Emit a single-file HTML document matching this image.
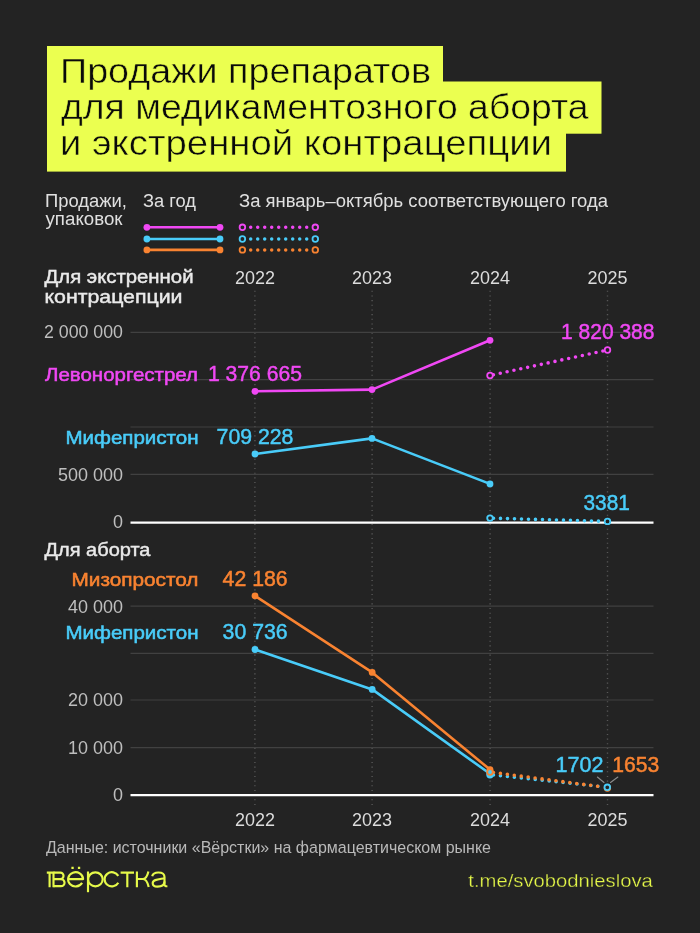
<!DOCTYPE html>
<html lang="ru">
<head>
<meta charset="utf-8">
<title>Продажи препаратов для медикаментозного аборта и экстренной контрацепции</title>
<style>
html,body{margin:0;padding:0;background:#232323;}
body{width:700px;height:933px;overflow:hidden;font-family:"Liberation Sans",sans-serif;}
svg{display:block;will-change:transform;}
text{font-family:"Liberation Sans",sans-serif;}
.ttl{font-size:35px;fill:#0a0a0a;stroke:#ebff50;stroke-width:0.5px;}
.lg{font-size:18px;fill:#e0e0e0;}
.ax{font-size:18px;fill:#bebebe;}
.yr{font-size:18.3px;fill:#dcdcdc;}
.hd{font-size:17.6px;fill:#eaeaea;stroke:#eaeaea;stroke-width:0.42px;}
.nm{font-size:18.6px;stroke-width:0.55px;}
.val{font-size:22px;stroke-width:0.5px;}
.m{fill:#f048f4;stroke:#f048f4;}
.c{fill:#49ccf9;stroke:#49ccf9;}
.o{fill:#f98331;stroke:#f98331;}
.src{font-size:16.7px;fill:#b9b9b9;}
.lnk{font-size:18px;fill:#e6f94a;stroke:#232323;stroke-width:0.3px;}
.logo{font-size:27px;fill:#e6f94a;stroke:#232323;stroke-width:0.5px;}
</style>
</head>
<body>
<svg width="700" height="933" viewBox="0 0 700 933">
<rect x="0" y="0" width="700" height="933" fill="#232323"/>

<!-- title -->
<g id="title">
<rect x="47" y="46" width="396" height="40" fill="#ebff50"/>
<rect x="47" y="81.5" width="554.5" height="52.2" fill="#ebff50"/>
<rect x="47" y="133" width="519" height="38.6" fill="#ebff50"/>
<text class="ttl" x="60" y="82.6" textLength="371" lengthAdjust="spacingAndGlyphs">Продажи препаратов</text>
<text class="ttl" x="61" y="118.5" textLength="527.5" lengthAdjust="spacingAndGlyphs">для медикаментозного аборта</text>
<text class="ttl" x="60" y="154.5" textLength="492" lengthAdjust="spacingAndGlyphs">и экстренной контрацепции</text>
</g>

<!-- legend -->
<g id="legend">
<text class="lg" x="45" y="206.7" textLength="82" lengthAdjust="spacingAndGlyphs">Продажи,</text>
<text class="lg" x="45.5" y="225.2" textLength="77" lengthAdjust="spacingAndGlyphs">упаковок</text>
<text class="lg" x="143" y="206.5" textLength="53" lengthAdjust="spacingAndGlyphs">За год</text>
<text class="lg" x="239" y="206.5" textLength="369" lengthAdjust="spacingAndGlyphs">За январь–октябрь соответствующего года</text>

<g stroke-width="2.6" stroke-linecap="round">
<line x1="146.9" y1="227.3" x2="220" y2="227.3" stroke="#f048f4"/>
<line x1="146.9" y1="239" x2="220" y2="239" stroke="#49ccf9"/>
<line x1="146.9" y1="249.9" x2="220" y2="249.9" stroke="#f98331"/>
</g>
<circle cx="146.9" cy="227.3" r="3.4" fill="#f048f4"/><circle cx="220" cy="227.3" r="3.4" fill="#f048f4"/>
<circle cx="146.9" cy="239" r="3.4" fill="#49ccf9"/><circle cx="220" cy="239" r="3.4" fill="#49ccf9"/>
<circle cx="146.9" cy="249.9" r="3.4" fill="#f98331"/><circle cx="220" cy="249.9" r="3.4" fill="#f98331"/>

<g stroke-width="3.5" stroke-linecap="round" stroke-dasharray="0 7" fill="none">
<line x1="250.7" y1="227.3" x2="308" y2="227.3" stroke="#f048f4"/>
<line x1="250.7" y1="239" x2="308" y2="239" stroke="#49ccf9"/>
<line x1="250.7" y1="249.9" x2="308" y2="249.9" stroke="#f98331"/>
</g>
<g fill="#232323" stroke-width="1.8">
<circle cx="242.4" cy="227.3" r="2.8" stroke="#f048f4"/><circle cx="315.3" cy="227.3" r="2.8" stroke="#f048f4"/>
<circle cx="242.4" cy="239" r="2.8" stroke="#49ccf9"/><circle cx="315.3" cy="239" r="2.8" stroke="#49ccf9"/>
<circle cx="242.4" cy="249.9" r="2.8" stroke="#f98331"/><circle cx="315.3" cy="249.9" r="2.8" stroke="#f98331"/>
</g>
</g>

<!-- grid -->
<g id="grid">
<g stroke="#585858" stroke-width="1.4" stroke-dasharray="1.1 3.565">
<line x1="254.9" y1="290.75" x2="254.9" y2="805.3"/>
<line x1="372.1" y1="290.75" x2="372.1" y2="805.3"/>
<line x1="490.1" y1="290.75" x2="490.1" y2="805.3"/>
<line x1="607.5" y1="290.75" x2="607.5" y2="805.3"/>
</g>
<g stroke="#414141" stroke-width="1.2">
<line x1="130.5" y1="332.3" x2="653.5" y2="332.3"/>
<line x1="130.5" y1="379.6" x2="653.5" y2="379.6"/>
<line x1="130.5" y1="427" x2="653.5" y2="427"/>
<line x1="130.5" y1="474.4" x2="653.5" y2="474.4"/>
<line x1="130.5" y1="606.2" x2="653.5" y2="606.2"/>
<line x1="130.5" y1="653.4" x2="653.5" y2="653.4"/>
<line x1="130.5" y1="700" x2="653.5" y2="700"/>
<line x1="130.5" y1="747.6" x2="653.5" y2="747.6"/>
</g>
<line x1="130.5" y1="522.6" x2="653.5" y2="522.6" stroke="#ffffff" stroke-width="2.3"/>
<line x1="130.5" y1="795.1" x2="653.5" y2="795.1" stroke="#ffffff" stroke-width="2.3"/>
</g>

<!-- axis labels -->
<g id="labels">
<text class="hd" x="44.5" y="282.5" textLength="149" lengthAdjust="spacingAndGlyphs">Для экстренной</text>
<text class="hd" x="44.5" y="303" textLength="138" lengthAdjust="spacingAndGlyphs">контрацепции</text>
<text class="hd" x="44.5" y="556.2" textLength="106" lengthAdjust="spacingAndGlyphs">Для аборта</text>

<text class="yr" x="235" y="283.5" textLength="40" lengthAdjust="spacingAndGlyphs">2022</text>
<text class="yr" x="352" y="283.5" textLength="40" lengthAdjust="spacingAndGlyphs">2023</text>
<text class="yr" x="470" y="283.5" textLength="40" lengthAdjust="spacingAndGlyphs">2024</text>
<text class="yr" x="587.5" y="283.5" textLength="40" lengthAdjust="spacingAndGlyphs">2025</text>
<text class="yr" x="235" y="825.5" textLength="40" lengthAdjust="spacingAndGlyphs">2022</text>
<text class="yr" x="352" y="825.5" textLength="40" lengthAdjust="spacingAndGlyphs">2023</text>
<text class="yr" x="470" y="825.5" textLength="40" lengthAdjust="spacingAndGlyphs">2024</text>
<text class="yr" x="587.5" y="825.5" textLength="40" lengthAdjust="spacingAndGlyphs">2025</text>

<text class="ax" x="44" y="337.5" textLength="79" lengthAdjust="spacingAndGlyphs">2 000 000</text>
<text class="ax" x="58" y="480.8" textLength="65" lengthAdjust="spacingAndGlyphs">500 000</text>
<text class="ax" x="113" y="527.8" textLength="10" lengthAdjust="spacingAndGlyphs">0</text>
<text class="ax" x="68" y="613" textLength="55" lengthAdjust="spacingAndGlyphs">40 000</text>
<text class="ax" x="68" y="706.2" textLength="55" lengthAdjust="spacingAndGlyphs">20 000</text>
<text class="ax" x="68" y="753.6" textLength="55" lengthAdjust="spacingAndGlyphs">10 000</text>
<text class="ax" x="113" y="800.5" textLength="10" lengthAdjust="spacingAndGlyphs">0</text>
</g>

<!-- series chart 1 -->
<g id="chart1" fill="none" stroke-linecap="round" stroke-linejoin="round">
<polyline points="255,391.3 372,389.6 490,340.3" stroke="#f048f4" stroke-width="2.6"/>
<polyline points="255,454 372,438.4 490,483.9" stroke="#49ccf9" stroke-width="2.6"/>
<line x1="490" y1="375.5" x2="607.5" y2="350" stroke="#f048f4" stroke-width="3.6" stroke-dasharray="0 7" stroke-dashoffset="-3.5"/>
<line x1="490" y1="518.1" x2="602.5" y2="521.26" stroke="#49ccf9" stroke-width="3.6" stroke-dasharray="0 7" stroke-dashoffset="-3.5"/>
<g fill="#f048f4"><circle cx="255" cy="391.3" r="3.4"/><circle cx="372" cy="389.6" r="3.4"/><circle cx="490" cy="340.3" r="3.4"/></g>
<g fill="#49ccf9"><circle cx="255" cy="454" r="3.4"/><circle cx="372" cy="438.4" r="3.4"/><circle cx="490" cy="483.9" r="3.4"/></g>
<g fill="#232323" stroke-width="1.8">
<circle cx="490" cy="375.5" r="2.8" stroke="#f048f4"/><circle cx="607.5" cy="350" r="2.8" stroke="#f048f4"/>
<circle cx="490" cy="518.1" r="2.8" stroke="#49ccf9"/><circle cx="607.5" cy="521.4" r="2.8" stroke="#49ccf9"/>
</g>
</g>
<text class="nm m" x="45" y="380.7" textLength="153" lengthAdjust="spacingAndGlyphs">Левоноргестрел</text>
<text class="val m" x="208" y="380.7" textLength="94" lengthAdjust="spacingAndGlyphs">1 376 665</text>
<text class="val m" x="561" y="338.6" textLength="93.5" lengthAdjust="spacingAndGlyphs">1 820 388</text>
<text class="nm c" x="65.5" y="443.9" textLength="133" lengthAdjust="spacingAndGlyphs">Мифепристон</text>
<text class="val c" x="216.6" y="443.9" textLength="76.8" lengthAdjust="spacingAndGlyphs">709 228</text>
<text class="val c" x="583.5" y="509.6" textLength="46.3" lengthAdjust="spacingAndGlyphs">3381</text>

<!-- series chart 2 -->
<g id="chart2" fill="none" stroke-linecap="round" stroke-linejoin="round">
<polyline points="255,649.5 372.2,689.4 490,773.8" stroke="#49ccf9" stroke-width="2.6"/>
<polyline points="255,595.8 372.2,672.4 490,769.6" stroke="#f98331" stroke-width="2.6"/>
<line x1="490" y1="774.6" x2="602" y2="786.73" stroke="#49ccf9" stroke-width="3.6" stroke-dasharray="0 7" stroke-dashoffset="-3.5"/>
<line x1="490" y1="772" x2="602" y2="786.8" stroke="#f98331" stroke-width="3.6" stroke-dasharray="0 7" stroke-dashoffset="-3.5"/>
<g fill="#49ccf9"><circle cx="255" cy="649.5" r="3.4"/><circle cx="372.2" cy="689.4" r="3.4"/><circle cx="490" cy="773.8" r="3.4"/></g>
<g fill="#f98331"><circle cx="255" cy="595.8" r="3.4"/><circle cx="372.2" cy="672.4" r="3.4"/><circle cx="490" cy="769.6" r="3.4"/></g>
<circle cx="490" cy="774.7" r="2.8" stroke="#49ccf9" stroke-width="1.8" fill="#49ccf9"/><circle cx="490" cy="772" r="2.8" stroke="#f98331" stroke-width="1.8" fill="#49ccf9"/>
<circle cx="607.4" cy="788" r="2.8" stroke="#f98331" stroke-width="1.8" fill="#232323"/><circle cx="607.3" cy="787.3" r="2.8" stroke="#49ccf9" stroke-width="1.8" fill="#232323"/>
<line x1="597.4" y1="777" x2="604" y2="782.5" stroke="#8c8c8c" stroke-width="1.1"/>
<line x1="617.9" y1="777" x2="610.5" y2="782.5" stroke="#8c8c8c" stroke-width="1.1"/>
</g>
<text class="nm o" x="71.5" y="585.5" textLength="127" lengthAdjust="spacingAndGlyphs">Мизопростол</text>
<text class="val o" x="222.6" y="585.5" textLength="65" lengthAdjust="spacingAndGlyphs">42 186</text>
<text class="nm c" x="65.5" y="638.5" textLength="133" lengthAdjust="spacingAndGlyphs">Мифепристон</text>
<text class="val c" x="222.6" y="638.6" textLength="65" lengthAdjust="spacingAndGlyphs">30 736</text>
<text class="val c" x="555.5" y="772" textLength="48" lengthAdjust="spacingAndGlyphs">1702</text>
<text class="val o" x="612.2" y="772" textLength="47" lengthAdjust="spacingAndGlyphs">1653</text>

<!-- footer -->
<g id="footer">
<text class="src" x="46" y="853.2" textLength="445" lengthAdjust="spacingAndGlyphs">Данные: источники «Вёрстки» на фармацевтическом рынке</text>
<text class="lnk" x="468.3" y="886.5" textLength="184.5" lengthAdjust="spacingAndGlyphs">t.me/svobodnieslova</text>
<g id="logo" fill="none" stroke="#e6f94a" stroke-width="2.15" stroke-linejoin="round">
<path d="M46.8 872.6H54M49.6 872.6V887.3M53.5 871.5V887.3"/>
<path d="M53.5 872.6H60.3a3.25 3.25 0 0 1 0 6.5H53.5M60.3 879.1H61a3.55 3.55 0 0 1 0 7.1H53.5"/>
<path d="M68.2 879.1H83.1A7.5 7.1 0 1 0 82.1 882.9"/>
<path d="M71.4 867.9h2.3M77.9 867.9h2.3" stroke-width="2.4"/>
<path d="M88 871.5V892.2"/>
<ellipse cx="95.4" cy="879.3" rx="7.3" ry="7"/>
<path d="M118.3 875.9A7.3 7.1 0 1 0 118.3 882.7"/>
<path d="M120.6 872.6H134M127.3 872.6V887.3"/>
<path d="M136.9 871.5V887.3M136.9 879H143C146 879 147.3 876.5 148.4 871.6M143 879C146 879 147.4 881.5 148.7 887"/>
<path d="M152.2 876.3C152.8 873.5 155.2 872.5 158.4 872.5C162.2 872.5 164.5 874 164.5 877V884.3C164.5 885.8 165.4 886.4 167.4 886.2"/>
<path d="M164.5 878.3C159 879.3 152.7 879.3 152.7 883.2C152.7 885.3 154.5 886.6 157.4 886.6C161.5 886.6 164.5 884.8 164.5 881.5"/>
</g>
</g>
</svg>
</body>
</html>
